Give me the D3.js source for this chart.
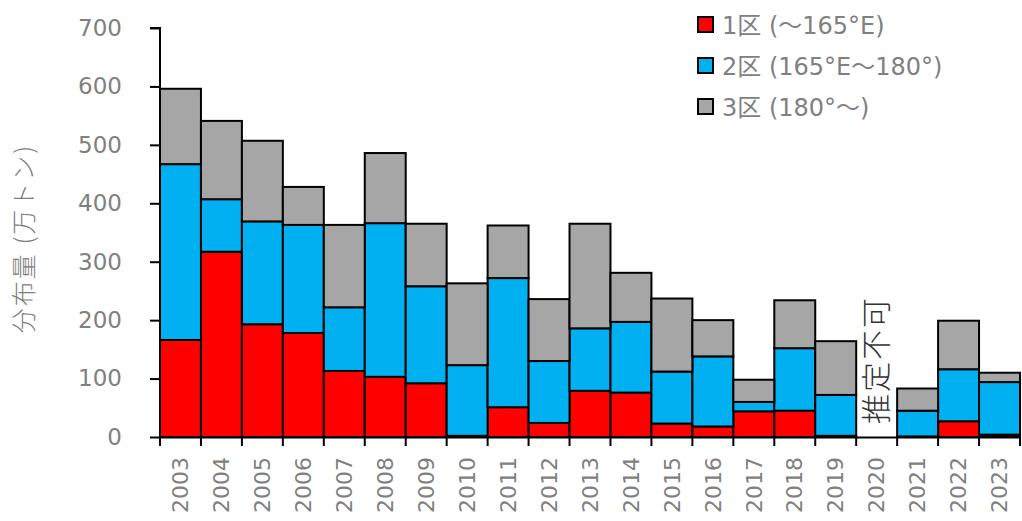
<!DOCTYPE html>
<html>
<head>
<meta charset="utf-8">
<script src="https://cdn.jsdelivr.net/npm/d3@7"></script>
<style>
  html, body { margin: 0; padding: 0; background: #fff; }
  svg { display: block; }
  text { font-family: "DejaVu Sans", Verdana, sans-serif; }
</style>
</head>
<body>
<svg id="chart" width="1022" height="521"></svg>
<script>
// Survey years (2020: no estimate available)
const years = ["2003","2004","2005","2006","2007","2008","2009","2010","2011","2012","2013",
               "2014","2015","2016","2017","2018","2019","2020","2021","2022","2023"];

// Biomass by area, 10,000 t
const area1 = [166, 317, 193, 178, 113, 103, 92, 2, 51, 24, 79, 76, 23, 18, 44, 45, 2, null, 1, 27, 4];
const area2 = [301, 90, 176, 185, 109, 263, 166, 121, 221, 106, 107, 121, 89, 120, 16, 107, 70, null, 44, 89, 90];
const area3 = [129, 134, 138, 65, 141, 120, 107, 140, 90, 106, 179, 84, 125, 62, 38, 82, 92, null, 38, 83, 16];

const seriesNames = ["1区 (～165°E)", "2区 (165°E～180°)", "3区 (180°～)"];
const seriesColors = ["#ff0000", "#00b0f0", "#a6a6a6"];
const yTicks = [0, 100, 200, 300, 400, 500, 600, 700];
const yTitle = "分布量 (万トン)";
const missingLabel = "推定不可";
const missingYear = "2020";

const svg = d3.select("#chart");
const margin = { left: 160, right: 2, top: 28, bottom: 84 };
const W = 1022, H = 521;

const x = d3.scaleBand().domain(years).range([margin.left, W - margin.right]).padding(0);
const y = d3.scaleLinear().domain([0, 700]).range([H - margin.bottom, margin.top]);

const rows = years.map((yr, i) => ({ year: yr, a1: area1[i], a2: area2[i], a3: area3[i] }));
const stack = d3.stack().keys(["a1", "a2", "a3"]).value((d, k) => d[k] == null ? 0 : d[k]);
const layers = stack(rows);

const g = svg.append("g");
layers.forEach((layer, li) => {
  g.append("g")
    .selectAll("rect")
    .data(layer.filter(d => d.data.a1 != null))
    .join("rect")
    .attr("x", d => x(d.data.year))
    .attr("width", x.bandwidth())
    .attr("y", d => y(d[1]))
    .attr("height", d => y(d[0]) - y(d[1]))
    .attr("fill", seriesColors[li])
    .attr("stroke", "#000")
    .attr("stroke-width", 2);
});

// Y axis
const yAxis = d3.axisLeft(y).tickValues(yTicks).tickSize(10).tickPadding(28);
const yg = svg.append("g").attr("transform", `translate(${margin.left},0)`).call(yAxis);
yg.select(".domain").attr("stroke", "#000").attr("stroke-width", 2)
  .attr("d", `M-10,${y(700)}H0V${y(0)}`);
yg.selectAll(".tick line").attr("stroke", "#000").attr("stroke-width", 2);
yg.selectAll(".tick text").attr("fill", "#808080").style("font-size", "23px")
  .style("font-family", "DejaVu Sans, Verdana, sans-serif");

// X axis
const xAxis = d3.axisBottom(x).tickSize(9).tickSizeOuter(0).tickPadding(0);
const xg = svg.append("g").attr("transform", `translate(0,${y(0)})`).call(xAxis);
xg.select(".domain").attr("stroke", "#000").attr("stroke-width", 2);
xg.selectAll(".tick line")
  .attr("transform", d => `translate(${-x.bandwidth() / 2},0)`)
  .attr("stroke", "#000").attr("stroke-width", 2);
// closing tick at the right edge
xg.append("line")
  .attr("x1", W - margin.right).attr("x2", W - margin.right)
  .attr("y1", 0).attr("y2", 9).attr("stroke", "#000").attr("stroke-width", 2);
xg.selectAll(".tick text")
  .attr("fill", "#808080").style("font-size", "22px")
  .style("font-family", "DejaVu Sans, Verdana, sans-serif")
  .attr("text-anchor", "end")
  .attr("dy", "0.35em")
  .attr("transform", "translate(0,20) rotate(-90)")
  .attr("y", 0).attr("x", 0);

// Y title
svg.append("text")
  .attr("transform", `translate(24,${(y(0) + y(700)) / 2 + 6}) rotate(-90)`)
  .attr("text-anchor", "middle")
  .attr("dy", "0.35em")
  .attr("fill", "#808080")
  .style("font-size", "25px")
  .style("letter-spacing", "2px")
  .style("font-family", "Noto Sans CJK JP, DejaVu Sans, sans-serif")
  .style("font-weight", "300")
  .text(yTitle);

// Note for the year without an estimate
svg.append("text")
  .attr("transform", `translate(${x(missingYear) + x.bandwidth() / 2},${y(0) - 77}) rotate(-90)`)
  .attr("text-anchor", "middle")
  .attr("dy", "0.35em")
  .attr("fill", "#333")
  .style("font-size", "30px")
  .style("letter-spacing", "2px")
  .style("font-family", "Noto Sans CJK JP, sans-serif")
  .style("font-weight", "300")
  .text(missingLabel);

// Legend
const legend = svg.append("g").attr("transform", "translate(698,17)");
seriesNames.forEach((name, i) => {
  const row = legend.append("g").attr("transform", `translate(0,${i * 41})`);
  row.append("rect").attr("x", 0).attr("y", 0).attr("width", 15).attr("height", 15)
    .attr("fill", seriesColors[i]).attr("stroke", "#000").attr("stroke-width", 2);
  row.append("text").attr("x", 24).attr("y", 8).attr("dy", "0.36em")
    .attr("fill", "#808080").style("font-size", "24px")
    .style("font-family", "DejaVu Sans, Noto Sans CJK JP, sans-serif")
    .text(name);
});
</script>
</body>
</html>
